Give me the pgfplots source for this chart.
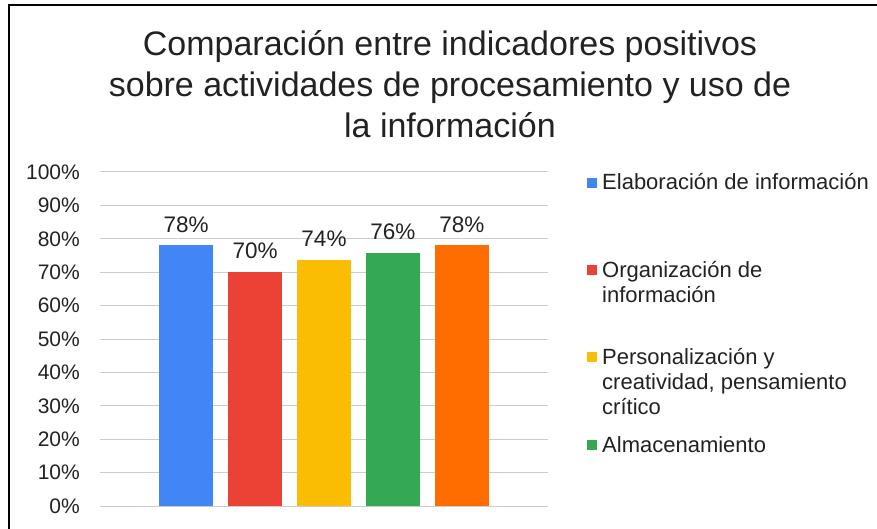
\documentclass[border=0pt]{standalone}
\usepackage{pgfplots}
\pgfplotsset{compat=1.18}
\usepackage{fontspec}
\setmainfont{Liberation Sans}

\definecolor{cblue}{HTML}{4285F4}
\definecolor{cred}{HTML}{EA4335}
\definecolor{cyellow}{HTML}{FBBC04}
\definecolor{cgreen}{HTML}{34A853}
\definecolor{corange}{HTML}{FF6D01}
\definecolor{txt}{HTML}{222222}

\begin{document}
\begin{tikzpicture}[x=1pt,y=1pt]
\path[use as bounding box] (0,0) rectangle (877,-529);
\draw[line width=2.6pt] (9,-529) -- (9,-5) -- (877,-5);

% title
\node[align=center, text=txt, font=\fontsize{34}{41}\selectfont] at (450,-84)
  {Comparación entre indicadores positivos\\
   sobre actividades de procesamiento y uso de\\
   la información};

\begin{axis}[
    at={(100pt,-506pt)}, anchor=south west,
    scale only axis, width=448pt, height=334pt,
    xmin=-1.25, xmax=5.25, ymin=0, ymax=100,
    ybar, bar width=54pt,
    xtick=\empty, ytick={0,10,...,100},
    yticklabel={\pgfmathprintnumber{\tick}\%},
    /pgf/number format/assume math mode=true,
    yticklabel style={font=\fontsize{21}{24}\selectfont, text=txt, anchor=east, inner sep=0pt, xshift=-20pt},
    ymajorgrids, major grid style={black!20, line width=1pt},
    axis line style={draw=none}, tick style={draw=none},
    nodes near coords={\pgfmathprintnumber[fixed,precision=0]{\pgfplotspointmeta}\%},
    nodes near coords style={font=\fontsize{22.5}{24}\selectfont, text=txt, inner sep=0pt, yshift=13pt},
    clip=false
]
\addplot[fill=cblue, draw=none, bar shift=0pt] coordinates {(0,78)};
\addplot[fill=cred, draw=none, bar shift=0pt] coordinates {(1,70)};
\addplot[fill=cyellow, draw=none, bar shift=0pt] coordinates {(2,73.6)};
\addplot[fill=cgreen, draw=none, bar shift=0pt] coordinates {(3,75.7)};
\addplot[fill=corange, draw=none, bar shift=0pt] coordinates {(4,78)};
\end{axis}

% legend
\begin{scope}[every node/.style={anchor=base west, inner sep=0pt, text=txt, font=\fontsize{22}{24}\selectfont}]
\fill[cblue] (587,-178) rectangle (597,-188);
\node at (602,-190) {Elaboración de información};
\fill[cred] (587,-265) rectangle (597,-275);
\node at (602,-277) {Organización de};
\node at (602,-302) {información};
\fill[cyellow] (587,-352) rectangle (597,-362);
\node at (602,-364) {Personalización y};
\node at (602,-389) {creatividad, pensamiento};
\node at (602,-414) {crítico};
\fill[cgreen] (587,-440) rectangle (597,-450);
\node at (602,-452) {Almacenamiento};
\end{scope}
\end{tikzpicture}
\end{document}
